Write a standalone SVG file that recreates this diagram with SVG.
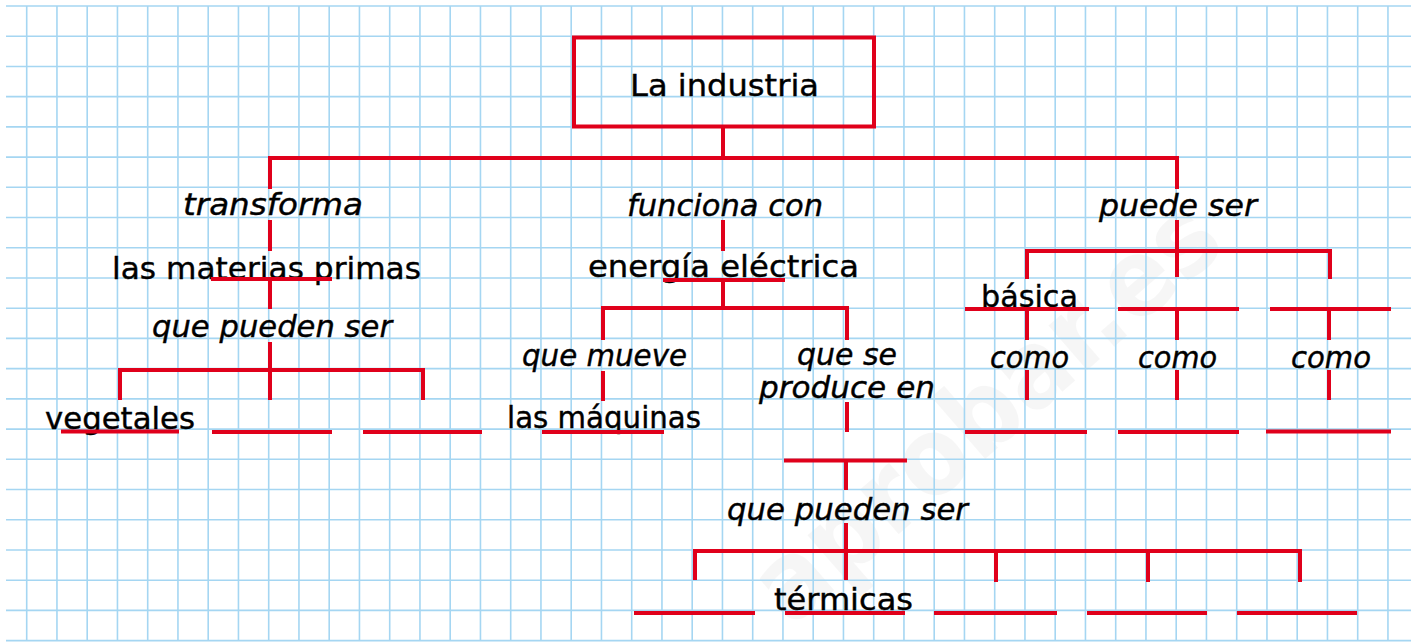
<svg xmlns="http://www.w3.org/2000/svg" width="1417" height="642" viewBox="0 0 1417 642">
<style>
.grid{stroke:#a5d6f2;stroke-width:1.6;fill:none}
.red{stroke:#e0001b;stroke-width:4;fill:none;stroke-linecap:butt}
.t{font-family:"DejaVu Sans","Liberation Sans",sans-serif;font-size:31px;fill:#000;stroke:#000;stroke-width:0.4;text-anchor:middle}
.i{font-style:italic}
.wm{font-family:"DejaVu Sans","Liberation Sans",sans-serif;font-weight:bold;font-size:108px;fill:#000;fill-opacity:0.035;text-anchor:middle}
</style>
<rect width="1417" height="642" fill="#fff"/>
<text class="wm" x="985" y="447" textLength="580" lengthAdjust="spacingAndGlyphs" transform="rotate(-41 985 410)">aprobar.es</text>
<path class="grid" d="M26.7 6V641M56.95 6V641M87.2 6V641M117.45 6V641M147.7 6V641M177.95 6V641M208.2 6V641M238.45 6V641M268.7 6V641M298.95 6V641M329.2 6V641M359.45 6V641M389.7 6V641M419.95 6V641M450.2 6V641M480.45 6V641M510.7 6V641M540.95 6V641M571.2 6V641M601.45 6V641M631.7 6V641M661.95 6V641M692.2 6V641M722.45 6V641M752.7 6V641M782.95 6V641M813.2 6V641M843.45 6V641M873.7 6V641M903.95 6V641M934.2 6V641M964.45 6V641M994.7 6V641M1024.95 6V641M1055.2 6V641M1085.45 6V641M1115.7 6V641M1145.95 6V641M1176.2 6V641M1206.45 6V641M1236.7 6V641M1266.95 6V641M1297.2 6V641M1327.45 6V641M1357.7 6V641M1387.95 6V641M6 6H1411M6 36.22H1411M6 66.44H1411M6 96.66H1411M6 126.88H1411M6 157.1H1411M6 187.32H1411M6 217.54H1411M6 247.76H1411M6 277.98H1411M6 308.2H1411M6 338.42H1411M6 368.64H1411M6 398.86H1411M6 429.08H1411M6 459.3H1411M6 489.52H1411M6 519.74H1411M6 549.96H1411M6 580.18H1411M6 610.4H1411M6 640.62H1411"/>

<g id="connectors" class="red">
<path d="M723 127V158M270 189V158H1177V189"/>
<path d="M270 220V251M270 279V309M270 342V370M120 400V370H423V400M270 370V400"/>
<path d="M723 220V251M723 280V308M603 340V308H847V340M603 371V401M847 402V432M846 460V490M846 523V580M695 580V551H1300V582M996 551V582M1148 551V582"/>
<path d="M1177 220V277M1027 279V251H1330V279M1027 309V340M1177 309V340M1329 309V340M1027 370V400M1177 370V400M1329 370V400"/>
</g>

<g id="root"><rect class="red" x="574" y="37.5" width="300" height="89"/><text class="t" x="724.5" y="96" font-size="33" textLength="189" lengthAdjust="spacingAndGlyphs">La industria</text></g>

<g id="transforma"><text class="t i" x="273" y="215" textLength="180" lengthAdjust="spacingAndGlyphs">transforma</text></g>
<g id="materias-primas"><text class="t" x="266.5" y="279" textLength="309" lengthAdjust="spacingAndGlyphs">las materias primas</text><line class="red" x1="211" y1="279" x2="332" y2="279"/></g>
<g id="que-pueden-ser-1"><text class="t i" x="272" y="337" textLength="240" lengthAdjust="spacingAndGlyphs">que pueden ser</text></g>
<g id="vegetales"><text class="t" x="120" y="429" textLength="150" lengthAdjust="spacingAndGlyphs">vegetales</text><line class="red" x1="61" y1="431.5" x2="179" y2="431.5"/></g>
<g id="blank-materia-2"><line class="red" x1="212" y1="432" x2="332" y2="432"/></g>
<g id="blank-materia-3"><line class="red" x1="363" y1="432" x2="482" y2="432"/></g>

<g id="funciona-con"><text class="t i" x="725" y="216" textLength="196" lengthAdjust="spacingAndGlyphs">funciona con</text></g>
<g id="energia-electrica"><text class="t" x="723.5" y="277" textLength="271" lengthAdjust="spacingAndGlyphs">energía eléctrica</text><line class="red" x1="663" y1="280" x2="785" y2="280"/></g>
<g id="que-mueve"><text class="t i" x="604.5" y="366" textLength="165" lengthAdjust="spacingAndGlyphs">que mueve</text></g>
<g id="las-maquinas"><text class="t" x="604" y="428" textLength="194" lengthAdjust="spacingAndGlyphs">las máquinas</text><line class="red" x1="542" y1="432" x2="664" y2="432"/></g>
<g id="que-se-produce-en"><text class="t i" x="847" y="365" font-size="28" textLength="100" lengthAdjust="spacingAndGlyphs">que se</text><text class="t i" x="847" y="398" font-size="28" textLength="176" lengthAdjust="spacingAndGlyphs">produce en</text></g>
<g id="blank-centrales"><line class="red" x1="784" y1="460.5" x2="907" y2="460.5"/></g>
<g id="que-pueden-ser-2"><text class="t i" x="847.5" y="520" textLength="241" lengthAdjust="spacingAndGlyphs">que pueden ser</text></g>
<g id="blank-tipo-1"><line class="red" x1="634" y1="613" x2="755" y2="613"/></g>
<g id="termicas"><text class="t" x="843.5" y="610" textLength="139" lengthAdjust="spacingAndGlyphs">térmicas</text><line class="red" x1="785" y1="613" x2="905" y2="613"/></g>
<g id="blank-tipo-3"><line class="red" x1="934" y1="613" x2="1057" y2="613"/></g>
<g id="blank-tipo-4"><line class="red" x1="1087" y1="613" x2="1207" y2="613"/></g>
<g id="blank-tipo-5"><line class="red" x1="1237" y1="613" x2="1357" y2="613"/></g>

<g id="puede-ser"><text class="t i" x="1178" y="216" textLength="158" lengthAdjust="spacingAndGlyphs">puede ser</text></g>
<g id="basica"><text class="t" x="1029.5" y="307" textLength="97" lengthAdjust="spacingAndGlyphs">básica</text><line class="red" x1="965" y1="309" x2="1089" y2="309"/></g>
<g id="blank-tipo-b"><line class="red" x1="1118" y1="309" x2="1239" y2="309"/></g>
<g id="blank-tipo-c"><line class="red" x1="1270" y1="309" x2="1391" y2="309"/></g>
<g id="como-1"><text class="t i" x="1029.5" y="368" textLength="79" lengthAdjust="spacingAndGlyphs">como</text></g>
<g id="como-2"><text class="t i" x="1177.5" y="368" textLength="79" lengthAdjust="spacingAndGlyphs">como</text></g>
<g id="como-3"><text class="t i" x="1331" y="368" textLength="80" lengthAdjust="spacingAndGlyphs">como</text></g>
<g id="blank-ejemplo-1"><line class="red" x1="965" y1="432" x2="1087" y2="432"/></g>
<g id="blank-ejemplo-2"><line class="red" x1="1118" y1="432" x2="1239" y2="432"/></g>
<g id="blank-ejemplo-3"><line class="red" x1="1266" y1="431.5" x2="1391" y2="431.5"/></g>
</svg>
